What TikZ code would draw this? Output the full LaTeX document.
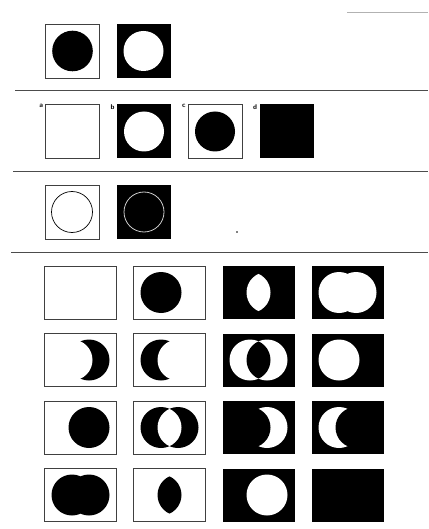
\documentclass[tikz,border=0pt]{standalone}
\begin{document}
\begin{tikzpicture}[
        x=1pt, y=-1pt,
        cell/.style={rectangle, inner sep=0pt, minimum width=54pt, minimum height=54pt},
        wcell/.style={cell, draw=black!75, line width=0.7pt, fill=white},
        bcell/.style={cell, fill=black},
        gcell/.style={rectangle, inner sep=0pt, minimum width=72pt, minimum height=53pt},
        wgcell/.style={gcell, draw=black!75, line width=0.7pt, fill=white},
        bgcell/.style={gcell, fill=black},
        lbl/.style={font=\sffamily\bfseries\fontsize{7}{8}\selectfont, inner sep=0pt, anchor=north east},
        rule/.style={draw=black!70, line width=0.6pt}
    ]
    \useasboundingbox (0,0) rectangle (428,529);

    \coordinate (r0a) at (347,12);
    \coordinate (r0b) at (428,12);
    \coordinate (r1a) at (15,90);
    \coordinate (r1b) at (428,90);
    \coordinate (r2a) at (13,171);
    \coordinate (r2b) at (428,171);
    \coordinate (r3a) at (11,252);
    \coordinate (r3b) at (428,252);
    \draw[draw=black!30, line width=0.5pt] (r0a) -- (r0b);
    \draw[rule] (r1a) -- (r1b);
    \draw[rule] (r2a) -- (r2b);
    \draw[rule] (r3a) -- (r3b);

    \node[wcell] (p1) at (72.5,51) {};
    \fill (p1.center) circle (20.3pt);
    \node[bcell] (p2) at (143.5,51) {};
    \fill[white] (p2.center) circle (20pt);

    \node[wcell] (qa) at (72.5,131.5) {};
    \node[bcell] (qb) at (144,131.5) {};
    \fill[white] (qb.center) circle (20pt);
    \node[wcell] (qc) at (215,131.5) {};
    \fill (qc.center) circle (20pt);
    \node[bcell] (qd) at (286.5,131.5) {};
    \node[lbl] (la) at ([xshift=-2pt]qa.north west) {a};
    \node[lbl] (lb) at ([xshift=-2pt]qb.north west) {b};
    \node[lbl] (lc) at ([xshift=-2pt]qc.north west) {c};
    \node[lbl] (ld) at ([xshift=-2pt]qd.north west) {d};

    \node[wcell] (s1) at (72,212) {};
    \draw[line width=0.7pt] (s1.center) circle (20.5pt);
    \node[bcell] (s2) at (144,212) {};
    \draw[white!80!black, line width=0.8pt] (s2.center) circle (20pt);
    \fill (237,232) circle (0.9pt);

    \node[wgcell] (g11) at (80.5,292.5) {};
    \node[wgcell] (g12) at (169.5,292.5) {};
    \fill ([xshift=-8.5pt]g12.center) circle (20.5pt);
    \node[bgcell] (g13) at (258.5,292.5) {};
    \begin{scope}
        \clip ([xshift=-8.5pt]g13.center) circle (20.5pt);
        \fill[white] ([xshift=8.5pt]g13.center) circle (20.5pt);
    \end{scope}
    \node[bgcell] (g14) at (347.5,292.5) {};
    \fill[white] ([xshift=-8.5pt]g14.center) circle (20.5pt)
        ([xshift=8.5pt]g14.center) circle (20.5pt);

    \node[wgcell] (g21) at (80.5,360) {};
    \fill ([xshift=8.5pt]g21.center) circle (20.5pt);
    \fill[white] ([xshift=-8.5pt]g21.center) circle (20.5pt);
    \node[wgcell] (g22) at (169.5,360) {};
    \fill ([xshift=-8.5pt]g22.center) circle (20.5pt);
    \fill[white] ([xshift=8.5pt]g22.center) circle (20.5pt);
    \node[bgcell] (g23) at (258.5,360) {};
    \fill[white] ([xshift=-8.5pt]g23.center) circle (20.5pt)
        ([xshift=8.5pt]g23.center) circle (20.5pt);
    \begin{scope}
        \clip ([xshift=-8.5pt]g23.center) circle (20.5pt);
        \fill ([xshift=8.5pt]g23.center) circle (20.5pt);
    \end{scope}
    \node[bgcell] (g24) at (347.5,360) {};
    \fill[white] ([xshift=-8.5pt]g24.center) circle (20.5pt);

    \node[wgcell] (g31) at (80.5,427.5) {};
    \fill ([xshift=8.5pt]g31.center) circle (20.5pt);
    \node[wgcell] (g32) at (169.5,427.5) {};
    \fill ([xshift=-8.5pt]g32.center) circle (20.5pt)
        ([xshift=8.5pt]g32.center) circle (20.5pt);
    \begin{scope}
        \clip ([xshift=-8.5pt]g32.center) circle (20.5pt);
        \fill[white] ([xshift=8.5pt]g32.center) circle (20.5pt);
    \end{scope}
    \node[bgcell] (g33) at (258.5,427.5) {};
    \fill[white] ([xshift=8.5pt]g33.center) circle (20.5pt);
    \fill ([xshift=-8.5pt]g33.center) circle (20.5pt);
    \node[bgcell] (g34) at (347.5,427.5) {};
    \fill[white] ([xshift=-8.5pt]g34.center) circle (20.5pt);
    \fill ([xshift=8.5pt]g34.center) circle (20.5pt);

    \node[wgcell] (g41) at (80.5,495) {};
    \fill ([xshift=-8.5pt]g41.center) circle (20.5pt)
        ([xshift=8.5pt]g41.center) circle (20.5pt);
    \node[wgcell] (g42) at (169.5,495) {};
    \begin{scope}
        \clip ([xshift=-8.5pt]g42.center) circle (20.5pt);
        \fill ([xshift=8.5pt]g42.center) circle (20.5pt);
    \end{scope}
    \node[bgcell] (g43) at (258.5,495) {};
    \fill[white] ([xshift=8.5pt]g43.center) circle (20.5pt);
    \node[bgcell] (g44) at (347.5,495) {};
    \end{tikzpicture}
\end{document}
